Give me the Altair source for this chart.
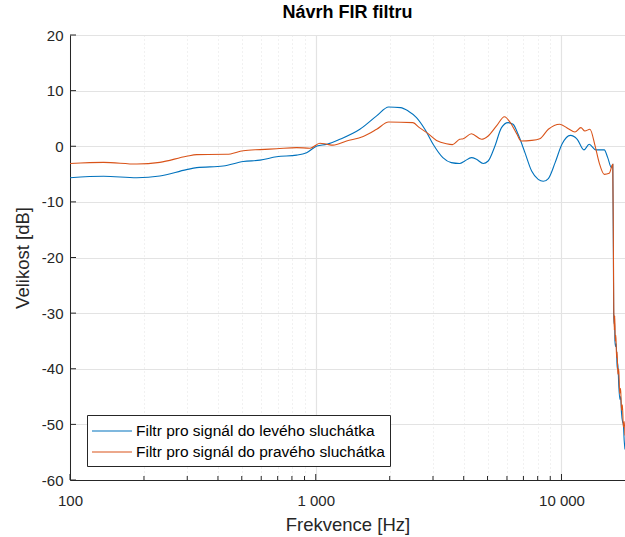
import altair as alt
import pandas as pd

# ---- data ----
left_f = [100, 137, 187, 232, 298, 328, 420, 507, 593, 693, 836, 918, 1011, 1110, 1254, 1512,
          1769, 1980, 2214, 2376, 2570, 2780, 3003, 3290, 3560, 3850, 4040, 4300, 4510, 4800,
          5030, 5360, 5700, 6060, 6350, 6660, 7100, 7560, 8040, 8430, 8840, 9420, 10040, 10870,
          11590, 12340, 12960, 13800, 14930, 15420, 15960, 16170, 16270, 16300, 16380, 16450,
          16500, 16600, 16700, 16850, 16950, 17100, 17280, 17400, 17550, 17720, 17850, 18000,
          18130]
left_db = [-5.65, -5.4, -5.65, -5.35, -4.2, -3.85, -3.55, -2.75, -2.5, -1.9, -1.6, -1.15, 0.05,
           0.35, 1.25, 3.05, 5.45, 7.05, 6.95, 6.35, 5.15, 3.05, 0.35, -2.05, -2.95, -3.1, -2.65,
           -2.05, -2.35, -3.1, -2.65, 0.05, 3.35, 4.25, 3.95, 2.15, -1.15, -4.45, -5.95, -6.3,
           -5.8, -2.95, 0.35, 1.95, 1.25, -0.65, 0.35, -0.65, -0.65, -2.05, -3.85, -3.25, -20.0,
           -30.0, -32.0, -31.5, -35.0, -36.0, -35.5, -40.0, -39.0, -43.0, -45.5, -45.0, -48.0,
           -49.5, -50.0, -53.0, -54.5]

right_f = [100, 137, 187, 232, 298, 328, 434, 507, 593, 693, 836, 948, 1040, 1110, 1175, 1335,
           1560, 1770, 1980, 2485, 2640, 2830, 3100, 3400, 3600, 3850, 3980, 4300, 4730, 5030,
           5440, 5860, 6190, 6590, 6850, 7560, 8160, 8840, 9840, 10660, 11340, 11990, 12450,
           13050, 13700, 14230, 14930, 15640, 16170, 16280, 16320, 16400, 16470, 16550, 16650,
           16750, 16850, 16950, 17100, 17250, 17400, 17550, 17700, 17850, 18000, 18130]
right_db = [-3.1, -2.9, -3.2, -2.9, -1.8, -1.5, -1.45, -0.8, -0.6, -0.45, -0.25, -0.35, 0.55,
            0.35, 0.2, 0.95, 1.75, 3.05, 4.35, 4.25, 3.35, 2.45, 1.05, 0.45, 0.3, 1.25, 1.35,
            2.25, 1.25, 1.85, 3.65, 5.3, 4.25, 2.15, 0.95, 1.05, 1.35, 3.05, 3.95, 3.15, 2.55,
            3.35, 2.75, 3.05, 0.05, -2.95, -5.05, -4.85, -3.25, -22.0, -29.0, -33.0, -30.5,
            -35.0, -34.0, -38.0, -37.0, -41.0, -40.0, -44.5, -43.5, -47.5, -46.5, -50.5, -49.5,
            -52.0]

series_names = ["Filtr pro signál do levého sluchátka", "Filtr pro signál do pravého sluchátka"]
series_colors = ["#0072BD", "#D95319"]

x_major = [100, 1000, 10000]
x_major_labels = ["100", "1 000", "10 000"]
x_minor = [200, 300, 400, 500, 600, 700, 800, 900,
           2000, 3000, 4000, 5000, 6000, 7000, 8000, 9000]
y_ticks = [20, 10, 0, -10, -20, -30, -40, -50, -60]

x_domain = [100, 18130]
y_domain = [-60, 20]

# ---- build table ----
df = pd.concat([
    pd.DataFrame({"f": left_f, "db": left_db, "s": series_names[0], "o": 0}),
    pd.DataFrame({"f": right_f, "db": right_db, "s": series_names[1], "o": 1}),
])

x_all = sorted(x_major + x_minor)
label_expr = " : ".join(
    f"datum.value == {v} ? '{l}'" for v, l in zip(x_major, x_major_labels)
) + " : ''"
major_test = " || ".join(f"datum.value == {v}" for v in x_major)

font = "Liberation Sans"
dark = "#262626"
gridc = "#e3e3e3"
xtitle = "Frekvence [Hz]"
ytitle = "Velikost [dB]"

xscale = alt.Scale(type="log", domain=x_domain, nice=False)
yscale = alt.Scale(domain=y_domain, nice=False, zero=False)

lines = alt.Chart(df).mark_line(strokeWidth=1.1, clip=True, interpolate="monotone").encode(
    x=alt.X("f:Q", scale=xscale, title=xtitle,
            axis=alt.Axis(values=x_all, labelExpr=label_expr, ticks=False,
                          grid=True, gridColor=gridc,
                          gridDash={"condition": {"test": major_test, "value": [1, 0]},
                                    "value": [1, 3]},
                          gridWidth={"condition": {"test": major_test, "value": 1.2},
                                     "value": 1},
                          labelOverlap=False, labelFlush=False, labelBound=False,
                          labelPadding=13, titlePadding=7)),
    y=alt.Y("db:Q", scale=yscale, title=ytitle,
            axis=alt.Axis(values=y_ticks, labelExpr="'' + datum.value", ticks=False,
                          grid=True, gridColor=gridc, gridWidth=1.2,
                          labelPadding=7, titlePadding=9)),
    color=alt.Color("s:N", scale=alt.Scale(domain=series_names, range=series_colors),
                    legend=alt.Legend(title=None, orient="none", legendX=17, legendY=380,
                                      symbolType="M-2,0H2", symbolSize=400,
                                      symbolStrokeWidth=1.2, symbolOffset=9,
                                      labelOffset=13, labelFontSize=15.5,
                                      labelFont=font, labelColor="#000000",
                                      rowPadding=1, padding=5,
                                      fillColor="white", strokeColor=dark,
                                      labelLimit=400)),
    order="o:Q",
    detail="s:N",
)

ytick_df = pd.DataFrame({"v": y_ticks})
xmaj_df = pd.DataFrame({"v": x_major})
xmin_df = pd.DataFrame({"v": x_minor})

yt = alt.Chart(ytick_df).mark_rule(color=dark, strokeWidth=1).encode(
    y=alt.Y("v:Q", scale=yscale, title=ytitle), x=alt.value(0), x2=alt.value(6))
xt1 = alt.Chart(xmaj_df).mark_rule(color=dark, strokeWidth=1).encode(
    x=alt.X("v:Q", scale=xscale, title=xtitle), y=alt.value(445), y2=alt.value(439))
xt2 = alt.Chart(xmin_df).mark_rule(color=dark, strokeWidth=1).encode(
    x=alt.X("v:Q", scale=xscale, title=xtitle), y=alt.value(445), y2=alt.value(441))

chart = alt.layer(lines, yt, xt1, xt2).properties(
    width=555, height=445,
    background="white",
    autosize=alt.AutoSizeParams(type="none"),
    padding={"left": 70, "top": 35, "right": 0, "bottom": 57},
    title=alt.TitleParams("Návrh FIR filtru", font=font, fontSize=18, fontWeight="bold",
                          color="#000000", offset=6, anchor="middle"),
).configure_view(stroke=None).configure_axis(
    domainColor=dark, domainWidth=1, labelColor=dark, titleColor=dark,
    labelFont=font, titleFont=font, labelFontSize=15, titleFontSize=18.5,
    titleFontWeight="normal",
)

chart.save("out.html", embed_options={"renderer": "svg", "actions": False})
